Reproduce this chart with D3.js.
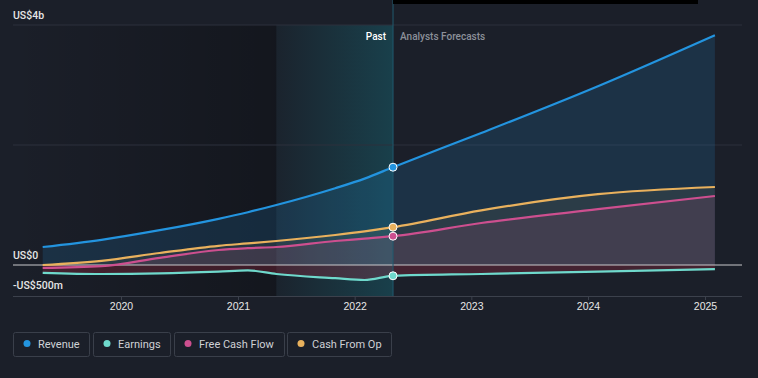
<!DOCTYPE html>
<html>
<head>
<meta charset="utf-8">
<script src="https://cdn.jsdelivr.net/npm/d3@7"></script>
<style>
  body { margin: 0; background: #1b1f29; }
  svg { display: block; font-family: Roboto, "Open Sans", sans-serif; }
</style>
</head>
<body>
<svg id="chart" width="758" height="378"></svg>
<script>
// dates (past quarters, then analyst forecast years)
const pastDates = ["2019-05-01", "2019-11-01", "2020-05-01", "2020-11-01", "2021-02-01", "2021-05-01", "2021-11-01", "2022-02-01", "2022-05-01"];
const forecastDates = ["2022-05-01", "2023-02-01", "2024-02-01", "2025-02-01"];

// values in US$ billions
const revenuePast = [0.30, 0.42, 0.58, 0.77, 0.88, 1.00, 1.28, 1.44, 1.63];
const revenueForecast = [1.63, 2.20, 2.98, 3.83];
const earningsPast = [-0.13, -0.15, -0.14, -0.11, -0.09, -0.15, -0.22, -0.25, -0.18];
const earningsForecast = [-0.18, -0.15, -0.11, -0.07];
const fcfPast = [-0.05, -0.02, 0.12, 0.25, 0.28, 0.30, 0.40, 0.44, 0.48];
const fcfForecast = [0.48, 0.70, 0.93, 1.15];
const cfoPast = [0.00, 0.07, 0.20, 0.32, 0.36, 0.40, 0.50, 0.56, 0.63];
const cfoForecast = [0.63, 0.91, 1.18, 1.30];

const yTicks = [-0.5, 0, 4];
const yTickLabels = ["-US$500m", "US$0", "US$4b"];
const gridValues = [2, 4];

const svg = d3.select("#chart");
const parse = d3.timeParse("%Y-%m-%d");

const x = d3.scaleTime()
    .domain([parse("2020-01-01"), parse("2025-01-01")])
    .range([121, 705]);
const y = d3.scaleLinear()
    .domain([-0.5, 4])
    .range([295, 25]);

const left = 13, right = 742;
const nowDate = parse("2022-05-01");
const nowX = x(nowDate);

function makeSeries(name, color, fill, fillOpacity, past, forecast) {
    let pts = pastDates.map((d, i) => ({date: parse(d), v: past[i]}));
    forecastDates.slice(1).forEach((d, i) => pts.push({date: parse(d), v: forecast[i + 1]}));
    return {name: name, color: color, fill: fill, fillOpacity: fillOpacity, points: pts};
}

const series = [
    makeSeries("Revenue", "#2394df", "#2394df", 0.16, revenuePast, revenueForecast),
    makeSeries("Earnings", "#6fd9cc", "#d8344e", 0.22, earningsPast, earningsForecast),
    makeSeries("Free Cash Flow", "#cd4f8f", "#cd4f8f", 0.13, fcfPast, fcfForecast),
    makeSeries("Cash From Op", "#e9b15d", "#e9b15d", 0.08, cfoPast, cfoForecast)
];

const defs = svg.append("defs");
let gPast = defs.append("linearGradient").attr("id", "pastShade");
gPast.append("stop").attr("offset", "0%").attr("stop-color", "#000").attr("stop-opacity", 0);
gPast.append("stop").attr("offset", "100%").attr("stop-color", "#000").attr("stop-opacity", 0.28);
let gNow = defs.append("linearGradient").attr("id", "nowShade");
gNow.append("stop").attr("offset", "0%").attr("stop-color", "#12a8b8").attr("stop-opacity", 0.03);
gNow.append("stop").attr("offset", "100%").attr("stop-color", "#12a8b8").attr("stop-opacity", 0.24);

// past shading
svg.append("rect")
    .attr("x", left).attr("y", 25)
    .attr("width", x(parse("2021-05-01")) - left).attr("height", 271)
    .attr("fill", "url(#pastShade)");
svg.append("rect")
    .attr("x", x(parse("2021-05-01"))).attr("y", 25)
    .attr("width", nowX - x(parse("2021-05-01"))).attr("height", 271)
    .attr("fill", "url(#nowShade)");

// grid
svg.append("g").selectAll("line")
    .data(gridValues)
    .enter()
    .append("line")
    .attr("x1", left).attr("x2", right)
    .attr("y1", d => y(d)).attr("y2", d => y(d))
    .attr("stroke", "#2c313c")
    .attr("stroke-width", 1);

// areas
const area = d3.area()
    .x(d => x(d.date))
    .y0(y(0))
    .y1(d => y(d.v))
    .curve(d3.curveMonotoneX);
const line = d3.line()
    .x(d => x(d.date))
    .y(d => y(d.v))
    .curve(d3.curveMonotoneX);

svg.append("g").selectAll("path")
    .data(series)
    .enter()
    .append("path")
    .attr("d", d => area(d.points))
    .attr("fill", d => d.fill)
    .attr("fill-opacity", d => d.fillOpacity);

// zero line
svg.append("line")
    .attr("x1", left).attr("x2", right)
    .attr("y1", y(0)).attr("y2", y(0))
    .attr("stroke", "#c9c9cc")
    .attr("stroke-width", 1);

// now line
svg.append("line")
    .attr("x1", nowX).attr("x2", nowX)
    .attr("y1", 0).attr("y2", 296)
    .attr("stroke", "#1f5a6e")
    .attr("stroke-width", 1);

// lines
svg.append("g").selectAll("path")
    .data(series)
    .enter()
    .append("path")
    .attr("d", d => line(d.points))
    .attr("fill", "none")
    .attr("stroke", d => d.color)
    .attr("stroke-width", 2.2);

// now markers
svg.append("g").selectAll("circle")
    .data(series)
    .enter()
    .append("circle")
    .attr("cx", nowX)
    .attr("cy", d => y(d.points[pastDates.length - 1].v))
    .attr("r", 4)
    .attr("fill", d => d.color)
    .attr("stroke", "#fff")
    .attr("stroke-width", 1);

// black bar at top
svg.append("rect")
    .attr("x", nowX).attr("y", 0)
    .attr("width", 698 - nowX).attr("height", 4)
    .attr("fill", "#000");

// x axis
const xAxis = d3.axisBottom(x)
    .ticks(d3.timeYear.every(1))
    .tickFormat(d3.timeFormat("%Y"))
    .tickSize(4)
    .tickSizeOuter(0);
const xg = svg.append("g")
    .attr("transform", "translate(0,296)")
    .call(xAxis);
xg.select(".domain").remove();
xg.selectAll(".tick line").attr("stroke", "#3c414c");
xg.selectAll(".tick text")
    .attr("fill", "#e6e6e6")
    .attr("font-size", 10.5)
    .attr("font-weight", 500)
    .attr("y", 7)
    .attr("dy", "0.71em");
svg.append("line")
    .attr("x1", left).attr("x2", right)
    .attr("y1", 296.5).attr("y2", 296.5)
    .attr("stroke", "#3c414c");

// y labels
svg.append("g").selectAll("text")
    .data(yTicks)
    .enter()
    .append("text")
    .attr("x", left)
    .attr("y", d => y(d) - 6)
    .attr("fill", "#e6e6e6")
    .attr("font-size", 10.5)
    .attr("font-weight", 500)
    .text((d, i) => yTickLabels[i]);

// past / forecast labels
svg.append("text")
    .attr("x", nowX - 7).attr("y", 40)
    .attr("text-anchor", "end")
    .attr("fill", "#ffffff")
    .attr("font-size", 10)
    .attr("font-weight", 500)
    .text("Past");
svg.append("text")
    .attr("x", nowX + 7).attr("y", 40)
    .attr("fill", "#8c9099")
    .attr("font-size", 10)
    .attr("font-weight", 500)
    .text("Analysts Forecasts");

// legend
const legendX = [13, 93, 174, 287];
const legendW = [76, 77, 110, 104];
const legend = svg.append("g").selectAll("g")
    .data(series)
    .enter()
    .append("g")
    .attr("transform", (d, i) => "translate(" + legendX[i] + ",332)");
legend.append("rect")
    .attr("x", 0.5).attr("y", 0.5)
    .attr("width", (d, i) => legendW[i]).attr("height", 24)
    .attr("rx", 2)
    .attr("fill", "none")
    .attr("stroke", "#3a3f4a");
legend.append("circle")
    .attr("cx", 14).attr("cy", 11.5).attr("r", 3.5)
    .attr("fill", d => d.color);
legend.append("text")
    .attr("x", 25).attr("y", 15.5)
    .attr("fill", "#cfd1d6")
    .attr("font-size", 11)
    .text(d => d.name);
</script>
</body>
</html>
